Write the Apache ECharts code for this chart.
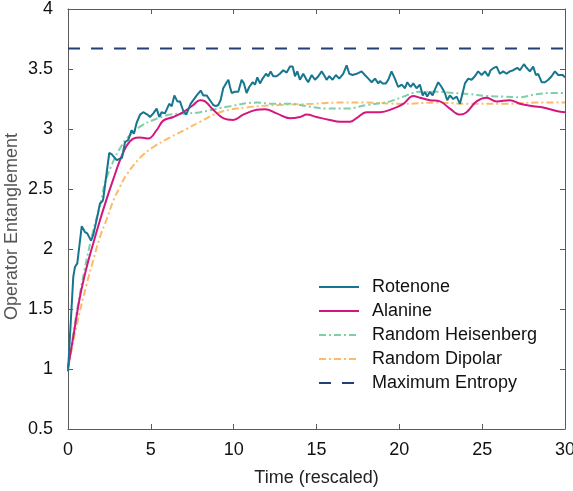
<!DOCTYPE html>
<html>
<head>
<meta charset="utf-8">
<script src="https://cdn.jsdelivr.net/npm/echarts@6/dist/echarts.min.js"></script>
<style>
  html, body { margin: 0; padding: 0; background: #fff; }
  #main { width: 573px; height: 491px; }
</style>
</head>
<body>
<div id="main"></div>
<script>
// values: [time, entanglement]
const rotenone = [
  [0, 0.98], [0.32, 1.77], [0.42, 1.85], [0.56, 1.88], [0.83, 2.19], [1.03, 2.14], [1.16, 2.13],
  [1.39, 2.07], [1.53, 2.12], [1.63, 2.13], [1.77, 2.27], [1.93, 2.38], [2.09, 2.40], [2.13, 2.42],
  [2.3, 2.6], [2.49, 2.80], [2.63, 2.79], [2.94, 2.74], [3.10, 2.75], [3.26, 2.76], [3.44, 2.89],
  [3.64, 2.91], [3.84, 2.99], [3.98, 2.96], [4.14, 3.05], [4.35, 3.12], [4.54, 3.14], [4.79, 3.12],
  [4.95, 3.10], [5.15, 3.13], [5.35, 3.17], [5.51, 3.10], [5.65, 3.14], [5.85, 3.13], [6.11, 3.21],
  [6.26, 3.19], [6.42, 3.28], [6.60, 3.23], [6.76, 3.23], [6.96, 3.15], [7.14, 3.12], [7.40, 3.21],
  [7.77, 3.28], [8.01, 3.32], [8.17, 3.28], [8.37, 3.28], [8.57, 3.24], [8.77, 3.20], [8.93, 3.19],
  [9.07, 3.20], [9.21, 3.24], [9.37, 3.34], [9.58, 3.39], [9.68, 3.41], [9.78, 3.35], [9.88, 3.30],
  [10.08, 3.31], [10.28, 3.31], [10.48, 3.41], [10.62, 3.38], [10.78, 3.30], [10.94, 3.35], [11.15, 3.39],
  [11.29, 3.37], [11.43, 3.43], [11.59, 3.38], [11.75, 3.42], [11.95, 3.46], [12.09, 3.44], [12.23, 3.48],
  [12.39, 3.44], [12.59, 3.44], [12.79, 3.46], [12.99, 3.49], [13.20, 3.47], [13.40, 3.52], [13.56, 3.52],
  [13.70, 3.44], [13.84, 3.48], [14.00, 3.41], [14.20, 3.46], [14.36, 3.42], [14.50, 3.39], [14.71, 3.45],
  [14.91, 3.41], [15.11, 3.44], [15.31, 3.48], [15.45, 3.45], [15.61, 3.41], [15.77, 3.44], [15.97, 3.41],
  [16.17, 3.45], [16.37, 3.42], [16.61, 3.46], [16.82, 3.53], [16.98, 3.46], [17.18, 3.45], [17.42, 3.46],
  [17.72, 3.48], [17.92, 3.45], [18.13, 3.42], [18.33, 3.39], [18.53, 3.42], [18.73, 3.38], [18.83, 3.40],
  [18.99, 3.38], [19.19, 3.38], [19.33, 3.41], [19.53, 3.48], [19.73, 3.42], [19.93, 3.35], [20.14, 3.37],
  [20.34, 3.34], [20.48, 3.39], [20.68, 3.35], [20.84, 3.38], [21.04, 3.34], [21.24, 3.37], [21.41, 3.28],
  [21.55, 3.31], [21.68, 3.27], [21.85, 3.31], [22.01, 3.28], [22.15, 3.33], [22.35, 3.39], [22.55, 3.35],
  [22.75, 3.30], [22.89, 3.24], [23.05, 3.28], [23.25, 3.25], [23.46, 3.27], [23.66, 3.21], [23.82, 3.30],
  [23.96, 3.38], [24.16, 3.42], [24.36, 3.41], [24.56, 3.44], [24.76, 3.48], [24.97, 3.45], [25.17, 3.48],
  [25.37, 3.44], [25.51, 3.49], [25.71, 3.51], [25.87, 3.52], [26.07, 3.46], [26.27, 3.48], [26.47, 3.46],
  [26.67, 3.48], [26.88, 3.49], [27.12, 3.51], [27.28, 3.49], [27.52, 3.54], [27.68, 3.51], [27.88, 3.48],
  [28.08, 3.52], [28.24, 3.45], [28.38, 3.46], [28.59, 3.39], [28.79, 3.39], [28.99, 3.41], [29.19, 3.44],
  [29.39, 3.48], [29.59, 3.45], [29.86, 3.45], [30, 3.43]
];
const alanine = [
  [0, 1.01], [0.32, 1.27], [0.72, 1.60], [1.13, 1.85], [1.53, 2.05], [1.93, 2.24], [2.34, 2.42],
  [2.73, 2.58], [3.14, 2.74], [3.54, 2.86], [3.94, 2.92], [4.35, 2.93], [4.85, 2.92], [5.35, 2.99],
  [5.75, 3.07], [6.36, 3.10], [6.96, 3.14], [7.56, 3.20], [7.97, 3.24], [8.27, 3.23], [8.77, 3.16],
  [9.37, 3.09], [9.98, 3.075], [10.58, 3.12], [11.39, 3.16], [11.89, 3.165], [12.59, 3.13], [13.40, 3.09],
  [14.0, 3.10], [14.40, 3.12], [15.01, 3.10], [15.81, 3.075], [16.41, 3.06], [17.02, 3.06], [17.42, 3.09],
  [18.03, 3.14], [18.83, 3.14], [19.63, 3.17], [20.24, 3.21], [20.84, 3.275], [21.24, 3.26], [21.85, 3.24],
  [22.45, 3.23], [23.05, 3.17], [23.66, 3.12], [24.06, 3.14], [24.66, 3.23], [25.27, 3.26], [25.87, 3.23],
  [26.67, 3.24], [27.28, 3.21], [28.08, 3.19], [28.68, 3.18], [29.49, 3.15], [30, 3.14]
];
const heisenberg = [
  [0, 1.0], [0.5, 1.45], [1.0, 1.83], [1.5, 2.14], [2.0, 2.40], [2.23, 2.55], [2.73, 2.73],
  [3.14, 2.84], [3.54, 2.92], [4.35, 3.02], [5.15, 3.075], [6.16, 3.12], [7.16, 3.13], [7.97, 3.14],
  [9.78, 3.19], [11.39, 3.22], [12.39, 3.21], [13.40, 3.21], [14.40, 3.19], [15.61, 3.17], [16.82, 3.17],
  [18.03, 3.20], [19.43, 3.23], [20.24, 3.27], [21.24, 3.31], [22.25, 3.31], [23.25, 3.30], [24.26, 3.29],
  [25.27, 3.275], [26.27, 3.27], [27.28, 3.265], [28.28, 3.29], [29.29, 3.30], [30, 3.30]
];
const dipolar = [
  [0, 1.0], [0.5, 1.35], [1.13, 1.71], [1.53, 1.91], [1.93, 2.10], [2.34, 2.25], [2.73, 2.40],
  [3.14, 2.52], [3.54, 2.62], [4.35, 2.76], [5.15, 2.85], [6.16, 2.93], [7.16, 3.00], [7.97, 3.06],
  [9.17, 3.14], [10.78, 3.18], [12.79, 3.20], [14.80, 3.21], [16.21, 3.22], [17.82, 3.22], [20.24, 3.21],
  [22.25, 3.22], [24.26, 3.21], [26.27, 3.21], [28.28, 3.22], [30, 3.22]
];
const maxEntropy = [[0, 3.67], [30, 3.67]];

const seriesNames = ['Rotenone', 'Alanine', 'Random Heisenberg', 'Random Dipolar', 'Maximum Entropy'];

const FONT = "'Liberation Sans', Arial, Helvetica, sans-serif";
const AXIS_COLOR = '#5a5a5a';

const chart = echarts.init(document.getElementById('main'), null, { renderer: 'canvas' });

// plain boxed axis, ticks pointing inward, no labels
function frameAxis(pos, isX) {
  return {
    type: 'value',
    position: pos,
    min: isX ? 0 : 0.5,
    max: isX ? 30 : 4,
    interval: isX ? 5 : 0.5,
    axisLine: { show: true, onZero: false, lineStyle: { color: AXIS_COLOR, width: 1 } },
    axisTick: { show: true, inside: true, length: 5, lineStyle: { color: AXIS_COLOR } },
    axisLabel: { show: false },
    splitLine: { show: false }
  };
}

const xMain = frameAxis('bottom', true);
xMain.axisLabel = { show: true, color: '#111', fontSize: 18, fontFamily: FONT, margin: 12 };
xMain.name = 'Time (rescaled)';
xMain.nameLocation = 'middle';
xMain.nameGap = 40;
xMain.nameMoveOverlap = false;
xMain.nameTextStyle = { color: '#222', fontSize: 18, fontFamily: FONT };

const yMain = frameAxis('left', false);
yMain.axisLabel = { show: true, color: '#111', fontSize: 18, fontFamily: FONT, margin: 15 };
yMain.name = 'Operator Entanglement';
yMain.nameLocation = 'middle';
yMain.nameGap = 47;
yMain.nameMoveOverlap = false;
yMain.nameTextStyle = { color: '#555', fontSize: 18, fontFamily: FONT, padding: [0, 15, 0, 0] };

const option = {
  backgroundColor: '#fff',
  animation: false,
  grid: { left: 68, right: 8, top: 9, bottom: 62, containLabel: false, outerBoundsMode: 'none' },
  xAxis: [xMain, frameAxis('top', true)],
  yAxis: [yMain, frameAxis('right', false)],
  legend: {
    orient: 'vertical',
    left: 318,
    top: 278,
    padding: 0,
    itemWidth: 40,
    itemHeight: 14,
    itemGap: 6,
    itemStyle: { opacity: 0 },
    data: seriesNames,
    textStyle: { color: '#111', fontSize: 18, fontFamily: FONT, padding: [0, 0, 0, 8] }
  },
  series: [
    {
      name: seriesNames[0], type: 'line', data: rotenone, symbol: 'none',
      lineStyle: { color: '#17768f', width: 2 }, itemStyle: { color: '#17768f' }, z: 6
    },
    {
      name: seriesNames[1], type: 'line', data: alanine, symbol: 'none', smooth: 0.4,
      lineStyle: { color: '#d4177f', width: 2 }, itemStyle: { color: '#d4177f' }, z: 5
    },
    {
      name: seriesNames[2], type: 'line', data: heisenberg, symbol: 'none', smooth: 0.4,
      lineStyle: { color: '#80cfa7', width: 2, type: [7, 3, 2, 3] }, itemStyle: { color: '#80cfa7' }, z: 4
    },
    {
      name: seriesNames[3], type: 'line', data: dipolar, symbol: 'none', smooth: 0.4,
      lineStyle: { color: '#fdba69', width: 2, type: [7, 3, 2, 3] }, itemStyle: { color: '#fdba69' }, z: 3
    },
    {
      name: seriesNames[4], type: 'line', data: maxEntropy, symbol: 'none',
      lineStyle: { color: '#223f78', width: 2, type: [12, 11] }, itemStyle: { color: '#223f78' }, z: 2
    }
  ]
};

chart.setOption(option);
</script>
</body>
</html>
